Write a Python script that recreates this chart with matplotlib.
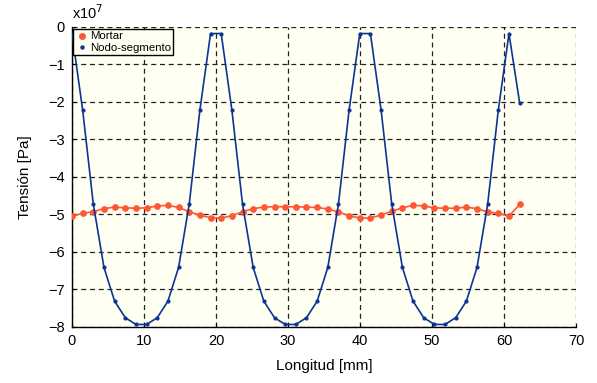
import numpy as np
import matplotlib
matplotlib.use("Agg")
import matplotlib.pyplot as plt
from matplotlib.lines import Line2D

# node positions along the beam [mm]
longitud = [0.00, 1.48, 2.96, 4.44, 5.92, 7.40, 8.88, 10.36, 11.84, 13.32,
            14.80, 16.28, 17.76, 19.24, 20.72, 22.20, 23.68, 25.16, 26.64, 28.12,
            29.60, 31.08, 32.56, 34.04, 35.52, 37.00, 38.48, 39.96, 41.44, 42.92,
            44.40, 45.88, 47.36, 48.84, 50.32, 51.80, 53.28, 54.76, 56.24, 57.72,
            59.20, 60.68, 62.16]

# tension in units of 1e7 Pa
mortar = [-5.05, -4.98, -4.93, -4.85, -4.81, -4.83, -4.84, -4.83, -4.78, -4.76,
          -4.82, -4.93, -5.03, -5.09, -5.10, -5.04, -4.93, -4.85, -4.81, -4.80,
          -4.80, -4.80, -4.81, -4.82, -4.86, -4.94, -5.04, -5.10, -5.10, -5.02,
          -4.92, -4.83, -4.76, -4.78, -4.83, -4.84, -4.84, -4.81, -4.85, -4.94,
          -4.98, -5.05, -4.74]

nodo_segmento = [-0.18, -2.22, -4.73, -6.42, -7.32, -7.76, -7.94, -7.94, -7.76, -7.32,
                 -6.42, -4.73, -2.22, -0.18, -0.18, -2.22, -4.73, -6.42, -7.32, -7.76,
                 -7.94, -7.94, -7.76, -7.32, -6.42, -4.73, -2.22, -0.18, -0.18, -2.22,
                 -4.73, -6.42, -7.32, -7.76, -7.94, -7.94, -7.76, -7.32, -6.42, -4.73,
                 -2.22, -0.18, -2.03]

x_ticks = [0, 10, 20, 30, 40, 50, 60, 70]
y_ticks = [0, -1, -2, -3, -4, -5, -6, -7, -8]

plt.rcParams['font.family'] = ['Liberation Sans', 'DejaVu Sans']

orange = '#ff5634'
blue = '#0b3595'

fig = plt.figure(figsize=(5.97, 3.83), dpi=100)
ax = fig.add_axes([0.1206, 0.147, 0.8444, 0.783])
ax.set_facecolor('#fffff2')

ax.plot(longitud, mortar, '-o', color=orange, lw=1.2, ms=3.8, mec=orange, zorder=3)
ax.plot(longitud, nodo_segmento, '-o', color=blue, lw=1.2, ms=2.0, mec=blue, zorder=4)

ax.set_xlim(0, 70)
ax.set_ylim(-8, 0)
ax.set_xticks(x_ticks)
ax.set_yticks(y_ticks)
ax.grid(True, color='#222222', linestyle=(0, (4, 3)), linewidth=0.9)
ax.set_axisbelow(True)
ax.tick_params(direction='in', length=3, labelsize=10.5, pad=5)

for s in ['top', 'right']:
    ax.spines[s].set_visible(False)
for s in ['left', 'bottom']:
    ax.spines[s].set_linewidth(1.0)

ax.set_xlabel('Longitud [mm]', fontsize=11, labelpad=8)
ax.set_ylabel('Tensión [Pa]', fontsize=11, labelpad=12)

ax.text(0.0, 1.015, 'x10$^7$', transform=ax.transAxes, fontsize=10.5,
        ha='left', va='bottom')

handles = [Line2D([], [], ls='none', marker='o', color=orange, ms=4.0),
           Line2D([], [], ls='none', marker='o', color=blue, ms=2.2)]
leg = ax.legend(handles, ['Mortar', 'Nodo-segmento'], loc='upper left',
                bbox_to_anchor=(0.002, 0.992), fontsize=8.2, fancybox=False,
                frameon=True, borderpad=0.2, handletextpad=0.1,
                handlelength=1.2, labelspacing=0.1, borderaxespad=0)
leg.get_frame().set_edgecolor('black')
leg.get_frame().set_linewidth(1.0)
leg.get_frame().set_facecolor('#fffff2')
leg.get_frame().set_alpha(1)

fig.savefig('out.png', dpi=100)
